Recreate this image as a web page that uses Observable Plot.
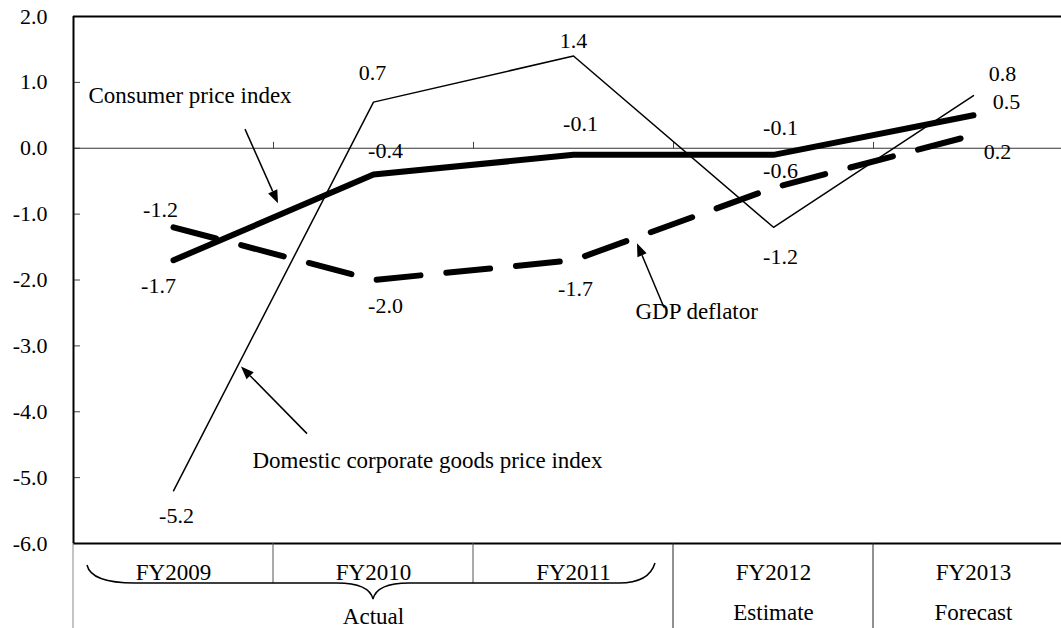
<!DOCTYPE html>
<html><head><meta charset="utf-8">
<script src="https://cdn.jsdelivr.net/npm/d3@7"></script>
<script src="https://cdn.jsdelivr.net/npm/@observablehq/plot@0.6"></script>
<style>
html,body{margin:0;padding:0;background:#fff;overflow:hidden}
svg, svg text{font-family:"Liberation Serif","Times New Roman",serif !important}
</style>
</head><body><div id="chart"></div>
<script>
// ---- data ----
const categories = ["FY2009", "FY2010", "FY2011", "FY2012", "FY2013"];
const statusLabels = ["Actual", "Estimate", "Forecast"];
const statusAt = [1, 3, 4];
const yTicks = [2, 1, 0, -1, -2, -3, -4, -5, -6];
const corporateGoods = [-5.2, 0.7, 1.4, -1.2, 0.8];
const consumerPrice = [-1.7, -0.4, -0.1, -0.1, 0.5];
const gdpDeflator = [-1.2, -2.0, -1.7, -0.6, 0.2];
const seriesNames = ["Domestic corporate goods price index", "Consumer price index", "GDP deflator"];

// ---- layout (label offsets in px, annotation anchors in data units) ----
const corpOffsets = [[3, 25], [-1, -29], [0, -15], [7, 30], [29, -22]];
const cpiOffsets = [[-15, 26], [12, -24], [7, -31], [7, -27], [33, -13]];
const gdpOffsets = [[-13, -17], [12, 26], [2, 29], [7, -17], [24, 17]];
const annotations = [
  {text: seriesNames[1], x: -0.425, y: 0.694},
  {text: seriesNames[0], x: 0.395, y: -4.858},
  {text: seriesNames[2], x: 2.31, y: -2.59}
];
const arrows = [
  {x1: 0.36, y1: 0.283, x2: 0.525, y2: -0.843},
  {x1: 2.455, y1: -2.424, x2: 2.32, y2: -1.451},
  {x1: 0.67, y1: -4.34, x2: 0.34, y2: -3.32}
];

const idx = categories.map((_, i) => i);
const toRows = vals => vals.map((v, i) => ({i, v}));
const font = '"Liberation Serif", "Times New Roman", serif';
const FS = 22;

function valueLabels(vals, offs) {
  return vals.map((v, i) => Plot.text([{i, v}], {
    x: "i", y: "v", text: d => d.v.toFixed(1), dx: offs[i][0], dy: offs[i][1],
    fontSize: FS, fontFamily: font, fill: "black", lineAnchor: "middle"
  }));
}

const lineShape = {draw(context, l) { context.moveTo(0, 0); context.lineTo(0, -l); }};

function arrowMark(index, {x, y}) {
  const g = d3.create("svg:g");
  for (const a of arrows) {
    const x1 = x(a.x1), y1 = y(a.y1), x2 = x(a.x2), y2 = y(a.y2);
    const ang = Math.atan2(y2 - y1, x2 - x1);
    const hl = 13, hw = 5;
    const bx = x2 - hl * Math.cos(ang), by = y2 - hl * Math.sin(ang);
    g.append("line").attr("x1", x1).attr("y1", y1).attr("x2", bx).attr("y2", by)
      .attr("stroke", "black").attr("stroke-width", 1.5);
    g.append("path")
      .attr("d", `M${x2},${y2}L${bx + hw * Math.sin(ang)},${by - hw * Math.cos(ang)}L${bx - hw * Math.sin(ang)},${by + hw * Math.cos(ang)}Z`)
      .attr("fill", "black");
  }
  return g.node();
}

function tableMark(index, {x}, values, dims) {
  const g = d3.create("svg:g");
  const yb = dims.height - dims.marginBottom;
  const full = [-0.5, 2.5, 3.5], half = [0.5, 1.5];
  for (const b of full) {
    g.append("line").attr("x1", x(b)).attr("x2", x(b)).attr("y1", yb).attr("y2", dims.height)
      .attr("stroke", b === -0.5 ? "#888" : "#222").attr("stroke-width", 1);
  }
  for (const b of half) {
    g.append("line").attr("x1", x(b)).attr("x2", x(b)).attr("y1", yb).attr("y2", yb + 40)
      .attr("stroke", "#555").attr("stroke-width", 1);
  }
  // brace under the "Actual" years
  const x0 = x(-0.5) + 14, x1 = x(2.5) - 18, xm = x(1);
  const yl = yb + 40, yt = yb + 22, yp = yb + 56;
  const d = `M${x0},${yt} Q${x0 + 4},${yl} ${x0 + 48},${yl} L${xm - 36},${yl} Q${xm - 4},${yl} ${xm},${yp}` +
            ` Q${xm + 4},${yl} ${xm + 36},${yl} L${x1 - 36},${yl} Q${x1 - 6},${yl} ${x1},${yt - 2}`;
  g.append("path").attr("d", d).attr("fill", "none").attr("stroke", "black").attr("stroke-width", 1.5);
  return g.node();
}

const chart = Plot.plot({
  width: 1061, height: 628,
  marginLeft: 73, marginRight: 0, marginTop: 16, marginBottom: 85,
  style: {fontFamily: font, fontSize: FS + "px", color: "black", background: "white", overflow: "hidden"},
  x: {domain: [-0.5, 4.5], range: [73, 1073], axis: null},
  y: {domain: [-6, 2], axis: null},
  marks: [
    Plot.axisY(yTicks, {tickSize: 0, tickPadding: 26, tickFormat: d => d.toFixed(1), fontSize: FS, fontFamily: font, fill: "black", label: null}),
    Plot.axisY(yTicks, {tickSize: 7, dx: 7, fill: "none", stroke: "#444", label: null}),
    Plot.ruleY([0], {stroke: "#333", strokeWidth: 1}),
    Plot.vector([0.5, 1.5, 2.5, 3.5], {x: d => d, y: () => 0, length: 6, rotate: 0, anchor: "start", shape: lineShape, stroke: "#444", strokeWidth: 1}),
    Plot.ruleY([2], {stroke: "black", strokeWidth: 2}),
    Plot.ruleY([-6], {stroke: "black", strokeWidth: 2}),
    Plot.ruleX([-0.5], {stroke: "black", strokeWidth: 2}),
    Plot.line(toRows(corporateGoods), {x: "i", y: "v", stroke: "black", strokeWidth: 1.5}),
    Plot.line(toRows(gdpDeflator), {x: "i", y: "v", stroke: "black", strokeWidth: 6, strokeDasharray: "44,26", strokeLinecap: "round"}),
    Plot.line(toRows(consumerPrice), {x: "i", y: "v", stroke: "black", strokeWidth: 6, strokeLinecap: "round", strokeLinejoin: "round"}),
    ...valueLabels(corporateGoods, corpOffsets),
    ...valueLabels(consumerPrice, cpiOffsets),
    ...valueLabels(gdpDeflator, gdpOffsets),
    Plot.text(annotations, {x: "x", y: "y", text: "text", textAnchor: "start", lineAnchor: "bottom", fontSize: FS + 1, fontFamily: font, fill: "black"}),
    arrowMark,
    tableMark,
    Plot.text(categories, {x: (d, i) => idx[i], frameAnchor: "bottom", dy: 36, lineAnchor: "bottom", text: d => d, fontSize: FS + 1, fontFamily: font, fill: "black"}),
    Plot.text(statusLabels, {x: (d, i) => statusAt[i], frameAnchor: "bottom", dy: (d => 0)() || 76, lineAnchor: "bottom", text: d => d, fontSize: FS + 1, fontFamily: font, fill: "black", filter: (d, i) => i > 0}),
    Plot.text(statusLabels, {x: (d, i) => statusAt[i], frameAnchor: "bottom", dy: 80, lineAnchor: "bottom", text: d => d, fontSize: FS + 1, fontFamily: font, fill: "black", filter: (d, i) => i === 0})
  ]
});
document.getElementById("chart").appendChild(chart);
</script></body></html>
